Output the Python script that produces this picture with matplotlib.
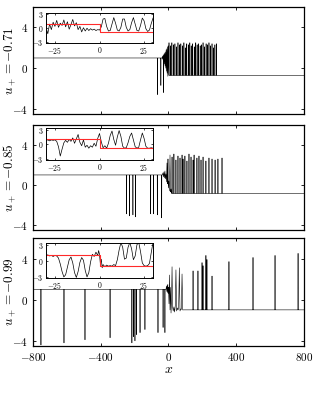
import numpy as np
import matplotlib
matplotlib.use("Agg")
import matplotlib.pyplot as plt

plt.rcParams['mathtext.fontset'] = 'cm'
plt.rcParams['font.family'] = 'serif'
plt.rcParams['font.serif'] = ['cmr10', 'DejaVu Serif']
plt.rcParams['axes.formatter.use_mathtext'] = True

# ---- data ----
u_minus = 1.0
u_plus = [-0.71, -0.85, -0.99]
labels = [r'$u_+ = -0.71$', r'$u_+ = -0.85$', r'$u_+ = -0.99$']

# panel 1 (u+ = -0.71)
down1_x = [-65, -45, -30]
down1_y = [-2.6, -1.7, -2.4]
trans1_x = [-38, -34, -32, -30, -28, -26, -24, -22, -20, -18, -16, -14, -12, -10, -8, -6, -4, -2]
trans1_y = [1.0, 1.2, 0.8, 1.3, 0.6, 1.4, 0.4, 1.5, 0.2, 1.6, 0.0, 1.8, -0.3, 1.9, -0.5, 2.1, -0.8, 2.2]
up1_x = [3, 12, 20, 29, 38, 47, 56, 64, 73, 82, 91, 99, 108, 117, 126, 134, 143,
         152, 161, 169, 178, 187, 196, 204, 213, 222, 231, 239, 248, 257, 266, 274, 283]
up1_y = [2.5, 2.2, 2.5, 2.3, 2.4, 2.1, 2.5, 2.3, 2.4, 2.2, 2.5, 2.0, 2.4, 2.3, 2.5, 2.2, 2.4,
         2.1, 2.5, 2.3, 2.4, 2.2, 2.3, 2.5, 2.1, 2.4, 2.3, 2.5, 2.2, 2.4, 2.0, 2.3, 2.4]

# panel 2 (u+ = -0.85)
down2_x = [-247, -230, -210, -195, -105, -88, -66, -40]
down2_y = [-2.9, -3.1, -3.0, -3.2, -2.9, -2.9, -3.0, -3.3]
trans2_x = [-36, -33, -30, -27, -24, -21, -18, -15, -12, -9, -7, -5, -3, -1, 2, 5, 9, 12, 15, 18]
trans2_y = [1.0, 1.2, 0.8, 1.3, 0.7, 1.4, 0.6, 1.1, 0.3, 2.2, 0.1, 1.0, 2.6, -0.3, 0.4, -0.6, 3.0, -0.7, -0.4, -0.85]
up2_x = [21, 32, 44, 56, 68, 80, 86, 97, 109, 121, 133, 145, 151, 168, 180, 192, 204, 221, 239, 257, 275, 292, 316]
up2_y = [2.8, 3.1, 2.5, 2.9, 2.7, 3.0, 2.6, 2.9, 2.4, 3.1, 2.8, 2.5, 3.0, 2.7, 2.9, 2.5, 2.8, 2.4, 2.7, 2.6, 2.5, 2.6, 2.7]

# panel 3 (u+ = -0.99)
down3_x = [-753, -617, -493, -345, -216, -206, -198, -190, -168, -139, -62, -32, -21]
down3_y = [-4.4, -4.2, -3.9, -3.7, -4.2, -3.6, -4.0, -3.4, -3.2, -2.9, -3.2, -2.7, -3.2]
trans3_x = [-15, -12, -10, -8, -6, -4, -2, 0, 3, 6, 9, 12, 15, 18, 21, 24, 28, 32, 36, 40, 44,
            48, 52, 56, 60, 64, 68, 72, 76, 80, 84, 88]
trans3_y = [1.0, 1.3, 0.8, 1.4, 0.7, 1.5, 0.6, 1.2, -0.4, 2.4, -1.0, 1.2, -1.3, 0.0, 3.2, -0.7, -1.1, -0.7, -1.2, -0.6, 2.9,
            -1.1, -0.8, -1.0, -0.8, 3.1, -1.1, -0.9, -0.95, 2.5, -1.0, -0.99]
up3_x = [145, 174, 198, 204, 221, 227, 257, 357, 499, 629, 765]
up3_y = [2.8, 2.8, 3.6, 3.3, 4.3, 3.9, 2.3, 3.7, 4.1, 4.3, 4.5]

# insets
in1_x = [-30, -29, -28, -27, -26, -25, -24, -23, -22, -21, -20, -19, -18, -17, -16, -15, -14, -13, -12, -11,
         -10, -9, -8, -7, -6, -5, -4, -3, -2, -1, 0,
         1, 2, 3, 4, 5, 6, 7, 8, 9, 10, 11, 12, 13, 14, 15, 16, 17, 18, 19, 20,
         21, 22, 23, 24, 25, 26, 27, 28, 29, 30]
in1_y = [0.2, -1.2, 0.9, -0.3, 1.3, 0.4, 1.7, 0.2, 1.1, 0.6, 1.8, 0.3, 1.4, -0.2, 0.8, 1.9, 0.5, 1.2, -0.3, 0.4,
         -0.8, 0.1, -0.6, 0.0, -0.5, -0.1, -0.4, -0.2, -0.5, -0.3, -0.4,
         0.3, 2.0, 2.1, 0.4, -0.6, -0.5, 0.9, 2.3, 1.1, -0.4, -0.6, 0.2, 2.0, 2.0, 0.2, -0.6, -0.3, 1.2, 2.3, 0.9,
         -0.5, -0.6, 0.6, 2.2, 1.6, -0.1, -0.7, -0.4, 1.0, 2.2]

in2_x = [-30, -29, -28, -27, -26, -25, -24, -23, -22, -21, -20, -19, -18, -17, -16, -15, -14, -13, -12, -11,
         -10, -9, -8, -7, -6, -5, -4, -3, -2, -1, 0,
         1, 2, 3, 4, 5, 6, 7, 8, 9, 10, 11, 12, 13, 14, 15, 16, 17, 18, 19, 20,
         21, 22, 23, 24, 25, 26, 27, 28, 29, 30]
in2_y = [0.8, 0.9, 0.7, 0.9, 0.8, 0.9, 0.6, -0.5, -2.4, -1.0, 0.3, 0.8, 0.4, 1.0, 0.6, 1.3, 0.2, 1.1, 2.0, 0.4,
         -0.3, 0.9, -0.6, -0.2, -0.8, -0.3, -0.6, 0.2, -0.4, 1.2, 2.2,
         0.5, -0.7, -0.3, -0.8, 0.2, 1.8, 2.7, 1.0, -0.2, 1.5, 2.8, 1.6, -0.4, -0.8, -0.7, 0.3, 1.6, 2.3, 0.9, -0.5,
         -0.8, -0.6, 0.9, 2.3, 1.2, -0.4, -0.8, -0.8, -0.7, -0.8]

in3_x = [-30, -29, -28, -27, -26, -25, -24, -23, -22, -21, -20, -19, -18, -17, -16, -15, -14, -13, -12, -11,
         -10, -9, -8, -7, -6, -5, -4, -3, -2, -1, -0.5, 0, 0.5, 1, 1.5,
         2, 3, 4, 5, 6, 7, 8, 9, 10, 11, 12, 13, 14, 15, 16, 17, 18, 19, 20,
         21, 22, 23, 24, 25, 26, 27, 28, 29, 30]
in3_y = [1.0, 1.1, 0.9, 1.0, 0.8, 1.0, 0.9, 0.5, -0.6, -2.0, -3.0, -2.6, -1.2, 0.2, 0.7, -0.4, -2.2, -3.1, -2.0, -0.3,
         0.6, 0.1, -1.8, -3.0, -2.2, -0.2, 1.2, 0.8, 1.6, 1.0, 1.9, 1.2, -0.6, 0.3, -1.3,
         -0.7, -1.1, -0.8, -1.0, -0.9, -1.0, -0.7, -0.9, 0.2, 2.0, 3.4, 2.5, 0.3, 0.5, 2.5, 3.4, 2.2, 0.2, 0.9,
         3.0, 3.4, 1.7, -0.4, -0.9, -1.0, -0.9, -0.5, 1.5, 3.4]

main_sets = [
    (down1_x, down1_y, trans1_x, trans1_y, up1_x, up1_y),
    (down2_x, down2_y, trans2_x, trans2_y, up2_x, up2_y),
    (down3_x, down3_y, trans3_x, trans3_y, up3_x, up3_y),
]
inset_sets = [(in1_x, in1_y), (in2_x, in2_y), (in3_x, in3_y)]


def build_curve(base_l, base_r, dx, dy, tx, ty, ux, uy, w=0.6):
    xs, ys = [-800], [base_l]
    for x, d in zip(dx, dy):
        xs += [x - w, x, x + w]
        ys += [base_l, d, base_l]
    xs += list(tx)
    ys += list(ty)
    for x, h in zip(ux, uy):
        xs += [x - w, x, x + w]
        ys += [base_r, h, base_r]
    xs.append(800)
    ys.append(base_r)
    return np.array(xs), np.array(ys)


fig = plt.figure(figsize=(3.16, 3.93), dpi=100)
main_pos = [[0.1044, 0.710, 0.8576, 0.272],
            [0.1044, 0.415, 0.8576, 0.267],
            [0.1044, 0.1196, 0.8576, 0.275]]
inset_pos = [[0.1456, 0.8906, 0.3386, 0.0763],
             [0.1456, 0.593, 0.3386, 0.081],
             [0.1456, 0.2926, 0.3386, 0.089]]

for i in range(3):
    ax = fig.add_axes(main_pos[i])
    xs, ys = build_curve(u_minus, u_plus[i], *main_sets[i])
    ax.plot(xs, ys, color='k', lw=0.4)
    ax.set_xlim(-800, 800)
    ax.set_ylim(-4.5, 6.0)
    ax.set_xticks([-800, -400, 0, 400, 800])
    ax.set_yticks([-4, 0, 4])
    ax.tick_params(direction='in', top=True, right=True, labelsize=8, length=2.5, width=0.6)
    for s in ax.spines.values():
        s.set_linewidth(0.9)
    ax.set_ylabel(labels[i], fontsize=9.5)
    ax.yaxis.set_label_coords(-0.055, 0.5)
    if i < 2:
        ax.set_xticklabels([])
    else:
        ax.set_xlabel(r'$x$', fontsize=10, labelpad=1)

    ins = fig.add_axes(inset_pos[i])
    ix, iy = inset_sets[i]
    ins.plot(ix, iy, color='k', lw=0.5)
    ins.plot([-30, 0, 0, 30], [u_minus, u_minus, u_plus[i], u_plus[i]], color='#ff2a2a', lw=0.8)
    ins.set_xlim(-30, 30)
    ins.set_ylim(-3.2, 3.3)
    ins.set_xticks([-25, 0, 25])
    ins.set_yticks([-3, 0, 3])
    ins.tick_params(direction='in', top=True, right=True, labelsize=5.5, length=1.5, width=0.5, pad=1.5)
    for s in ins.spines.values():
        s.set_linewidth(0.7)

fig.savefig('out.png', dpi=100)
